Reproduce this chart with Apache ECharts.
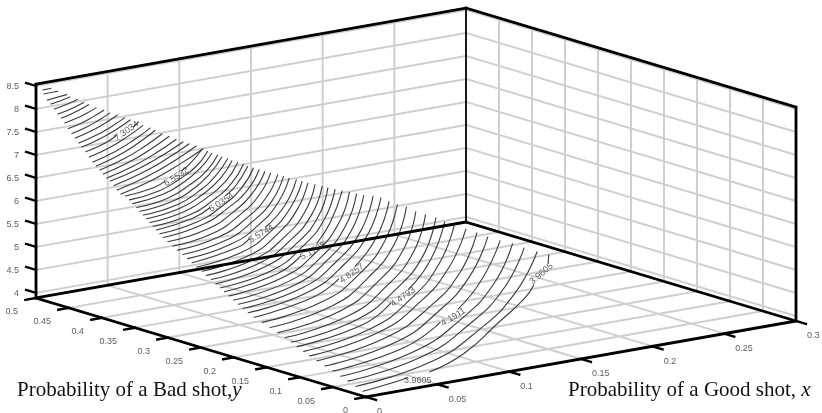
<!DOCTYPE html>
<html><head><meta charset="utf-8">
<script src="https://cdn.jsdelivr.net/npm/echarts@6/dist/echarts.min.js"></script>
<style>html,body{margin:0;padding:0;background:#fff}#c{width:822px;height:413px}</style>
</head><body><div id="c"></div>
<script>
// ---- values ----
const xTicks = [0, 0.05, 0.1, 0.15, 0.2, 0.25, 0.3];
const yTicks = [0, 0.05, 0.1, 0.15, 0.2, 0.25, 0.3, 0.35, 0.4, 0.45, 0.5];
const zTicks = [4, 4.5, 5, 5.5, 6, 6.5, 7, 7.5, 8, 8.5];
const zRange = [3.89, 8.54];
const xTitle = 'Probability of a Good shot, ';
const yTitle = 'Probability of a Bad shot,';
const contourLevels = [3.9605,4.0181,4.0758,4.1334,4.1911,4.2487,4.3063,4.364,4.4216,4.4793,4.5369,4.5945,4.6522,4.7098,4.7675,4.8251,4.8827,4.9404,4.998,5.0557,5.1133,5.1709,5.2286,5.2862,5.3439,5.4015,5.4591,5.5168,5.5744,5.6321,5.6897,5.7473,5.805,5.8626,5.9203,5.9779,6.0355,6.0932,6.1508,6.2085,6.2661,6.3237,6.3814,6.439,6.4967,6.5543,
6.638,6.699,6.772,6.843,6.885,6.946,7.008,7.069,7.132,7.213,7.3034,7.377,7.441,7.523,7.596,7.678,7.772,7.854,7.916,7.998,8.082,8.142,8.247,8.328];
const _ = [null, null];
const contourPaths = [
[[.01,.026],[.03,.034],[.0487,.0437],_,[.0676,.05],[.11,.09],[.169,.167],[.2157,.229],[.2405,.268],_,[.279,.33],[.291,.355]],
[[.01,.037],[.079,.073],[.148,.149],[.217,.245],[.286,.362]],
[[.01,.049],[.078,.085],[.146,.161],[.214,.256],[.282,.373]],
[[.01,.06],[.077,.096],[.145,.172],[.212,.267],[.279,.384]],
[[.01,.072],[.076,.107],[.128,.166],_,[.156,.199],[.208,.277],[.274,.392]],
[[.01,.084],[.075,.119],[.14,.194],[.205,.288],[.27,.402]],
[[.01,.096],[.074,.131],[.139,.205],[.203,.298],[.267,.412]],
[[.01,.107],[.0735,.142],[.137,.216],[.2,.309],[.264,.422]],
[[.01,.116],[.073,.151],[.1355,.225],[.198,.319],[.261,.433]],
[[.01,.126],[.072,.16],[.115,.212],_,[.143,.246],[.195,.326],[.257,.439]],
[[.01,.135],[.071,.169],[.1325,.243],[.194,.335],[.255,.448]],
[[.01,.144],[.07,.178],[.13,.251],[.191,.343],[.251,.455]],
[[.01,.155],[.069,.189],[.1285,.261],[.188,.351],[.247,.461]],
[[.01,.167],[.069,.201],[.128,.273],[.187,.363],[.246,.473]],
[[.01,.179],[.068,.212],[.1255,.281],[.183,.369],[.241,.476]],
[[.01,.191],[.067,.223],[.103,.265],_,[.13,.298],[.181,.377],[.238,.482]],
[[.01,.2],[.0665,.232],[.123,.3],[.1795,.386],[.236,.49]],
[[.01,.208],[.065,.239],[.12,.305],[.175,.388],[.2305,.49]],
[[.01,.215],[.0635,.245],[.117,.31],[.1705,.391],[.224,.49]],
[[.01,.222],[.062,.251],[.1145,.314],[.167,.394],[.219,.49]],
[[.01,.229],[.061,.258],[.112,.319],[.163,.396],[.214,.49]],
[[.01,.236],[.06,.264],[.095,.306],_,[.122,.339],[.159,.399],[.209,.49]],
[[.01,.242],[.0585,.269],[.107,.328],[.1555,.401],[.204,.49]],
[[.01,.249],[.057,.276],[.1045,.332],[.152,.403],[.199,.49]],
[[.01,.256],[.056,.282],[.1025,.337],[.149,.406],[.195,.49]],
[[.01,.263],[.055,.288],[.1,.341],[.145,.408],[.19,.49]],
[[.01,.27],[.054,.294],[.0975,.346],[.141,.411],[.185,.49]],
[[.01,.278],[.053,.301],[.0955,.351],[.138,.414],[.181,.49]],
[[.01,.285],[.052,.308],[.07,.329],_,[.095,.358],[.135,.416],[.177,.49]],
[[.01,.292],[.0505,.314],[.091,.36],[.1315,.419],[.172,.49]],
[[.01,.299],[.0495,.32],[.089,.365],[.1285,.421],[.168,.49]],
[[.01,.307],[.0485,.327],[.087,.37],[.1255,.424],[.164,.49]],
[[.01,.314],[.047,.333],[.0845,.375],[.122,.427],[.159,.49]],
[[.01,.322],[.046,.34],[.0825,.38],[.119,.43],[.155,.49]],
[[.01,.329],[.045,.347],[.0805,.385],[.116,.432],[.151,.49]],
[[.01,.334],[.044,.351],[.0785,.388],[.113,.434],[.147,.49]],
[[.01,.339],[.043,.356],[.066,.38],_,[.091,.41],[.11,.436],[.143,.49]],
[[.01,.344],[.0425,.36],[.075,.394],[.1075,.437],[.14,.49]],
[[.01,.349],[.0415,.365],[.073,.398],[.1045,.439],[.136,.49]],
[[.01,.354],[.0405,.369],[.071,.401],[.1015,.441],[.132,.49]],
[[.01,.359],[.04,.373],[.0695,.404],[.099,.443],[.129,.49]],
[[.01,.364],[.039,.378],[.0675,.407],[.096,.445],[.125,.49]],
[[.01,.369],[.038,.382],[.066,.411],[.094,.446],[.122,.49]],
[[.01,.375],[.037,.388],[.064,.415],[.091,.449],[.118,.49]],
[[.01,.38],[.036,.392],[.0625,.418],[.089,.45],[.115,.49]],
[[.01,.386],[.035,.397],[.049,.411],_,[.072,.435],[.086,.453],[.111,.49]],
[[.005,.382],[.0388,.4085],[.0735,.4428],[.1073,.48]],
[[.005,.3876],[.0376,.4134],[.0713,.4467],[.1039,.483]],
[[.005,.3927],[.0359,.417],[.0677,.4484],[.0986,.4825]],
[[.005,.3982],[.0343,.4206],[.0646,.4497],[.0939,.4813]],
[[.005,.4033],[.0336,.4259],[.063,.4551],[.0916,.4869]],
[[.005,.4087],[.0326,.431],[.061,.4598],[.0886,.4911]],
[[.005,.4139],[.0313,.4354],[.0585,.4632],[.0848,.4934]],
[[.005,.4194],[.0306,.441],[.0571,.4689],[.0827,.4993]],
[[.005,.4245],[.0296,.4449],[.055,.4713],[.0796,.5]],
[[.005,.43],[.0279,.4489],[.0515,.4734],[.0744,.5]],
[[.005,.4352],[.0269,.4527],[.042,.4695],_,[.0625,.488],[.0714,.5]],
[[.005,.4412],[.025,.4571],[.0457,.4777],[.0657,.5]],
[[.005,.4457],[.0237,.4604],[.043,.4794],[.0617,.5]],
[[.005,.4512],[.022,.4644],[.0396,.4815],[.0566,.5]],
[[.005,.4563],[.0203,.4681],[.0361,.4834],[.0514,.5]],
[[.005,.4618],[.019,.4721],[.0333,.4855],[.0473,.5]],
[[.005,.467],[.0168,.4752],[.0289,.4858],[.0407,.4974]],
[[.005,.4724],[.0153,.4797],[.026,.4891],[.0363,.4993]],
[[.005,.4775],[.0143,.4836],[.0239,.4915],[.0332,.5]],
[[.005,.4831],[.0129,.4877],[.021,.4936],[.0288,.5]],
[[.005,.4881],[.0111,.4913],[.0175,.4955],[.0236,.5]],
[[.005,.4936],[.0213,.5]],
[[.005,.4988],[.0151,.5]],
[[.005,.5],[.0103,.5]]
];
const labelTexts = ['3.9605','3.9605','4.1911','4.4793','4.8257','5.1708','5.5744','6.0354','6.5532','7.3034'];
const labelLevels = [3.9605,3.9605,4.1911,4.4793,4.8251,5.1709,5.5744,6.0355,6.5543,7.3034];
const labelX = [.26,.049,.142,.129,.1167,.1085,.0825,.0787,.0602,.053];
const labelY = [.299,.028,.176,.224,.275,.316,.338,.39,.418,.478];

// ---- projection of the 3-D box onto the page ----
const O = [366, 397], XV = [430/.3, -76/.3], YV = [-660, -198];
const boxH = v => 46 * (v - zRange[0]);
const contourH = v => 47.8 * (v - 4);
const proj = (x, y, h) => [O[0] + XV[0]*x + YV[0]*y, O[1] + XV[1]*x + YV[1]*y - h];

const X1 = .3, Y1 = .5, TOP = boxH(zRange[1]);
const gridPts = [];
const seg = (arr, a, b) => { arr.push(a, b, [null, null]); };
xTicks.slice(1, -1).forEach(x => {
  seg(gridPts, proj(x, 0, 0), proj(x, Y1, 0));
  seg(gridPts, proj(x, Y1, 0), proj(x, Y1, TOP));
});
yTicks.slice(1, -1).forEach(y => {
  seg(gridPts, proj(0, y, 0), proj(X1, y, 0));
  seg(gridPts, proj(X1, y, 0), proj(X1, y, TOP));
});
zTicks.forEach(z => {
  seg(gridPts, proj(0, Y1, boxH(z)), proj(X1, Y1, boxH(z)));
  seg(gridPts, proj(X1, Y1, boxH(z)), proj(X1, 0, boxH(z)));
});
const edgePts = [], thinEdgePts = [], tickPts = [];
seg(edgePts, proj(0, Y1, 0), proj(0, 0, 0));
seg(edgePts, proj(0, 0, 0), proj(X1, 0, 0));
seg(edgePts, proj(0, Y1, 0), proj(X1, Y1, 0));
seg(edgePts, proj(X1, Y1, 0), proj(X1, 0, 0));
seg(edgePts, proj(0, Y1, 0), proj(0, Y1, TOP));
seg(edgePts, proj(0, Y1, TOP), proj(X1, Y1, TOP));
seg(edgePts, proj(X1, Y1, TOP), proj(X1, 0, TOP));
seg(edgePts, proj(X1, 0, TOP), proj(X1, 0, 0));
seg(thinEdgePts, proj(X1, Y1, 0), proj(X1, Y1, TOP));
xTicks.forEach(x => seg(tickPts, proj(x, 0, 0), proj(x, -.015, 0)));
yTicks.forEach(y => seg(tickPts, proj(0, y, 0), proj(-.0075, y, 0)));
zTicks.forEach(z => seg(tickPts, proj(0, Y1, boxH(z)), proj(0, Y1 + .015, boxH(z))));

const FONT = '"Liberation Sans", Arial, sans-serif';
const tickLabel = (pts, texts, align, off) => ({
  type: 'scatter', symbolSize: 0, silent: true, z: 6, animation: false,
  data: pts.map((p, i) => ({ value: p, label: { formatter: String(texts[i]) } })),
  label: { show: true, position: 'inside', align, verticalAlign: 'middle', offset: off,
           fontFamily: FONT, fontSize: 9, color: '#333' }
});
const line = (data, color, width, z, smooth) => ({
  type: 'line', data, symbol: 'none', silent: true, animation: false, z, smooth: !!smooth,
  connectNulls: false, clip: false, lineStyle: { color, width, cap: 'square' }
});
const tilt = [40, 0, 32, 35, 35, 30, 32, 33, 33, 35];

const series = [
  line(gridPts, '#cfcfcf', 2, 1),
  ...contourPaths.map((path, k) => line(
    path.map(p => p[0] === null ? [null, null] : proj(p[0], p[1], contourH(contourLevels[k]))),
    '#3a3a3a', 1.1, 2, true)),
  line(edgePts, '#000', 2.8, 3),
  line(thinEdgePts, '#000', 1.8, 3),
  line(tickPts, '#000', 2.4, 3),
  tickLabel(xTicks.map(x => proj(x, 0, 0)), xTicks, 'left', [11, 15]),
  tickLabel(yTicks.map(y => proj(0, y, 0)), yTicks, 'right', [-18, 14]),
  tickLabel(zTicks.map(z => proj(0, Y1, boxH(z))), zTicks, 'right', [-17, 1]),
  {
    type: 'scatter', symbolSize: 0, silent: true, z: 6, animation: false,
    data: labelTexts.map((t, i) => ({
      value: proj(labelX[i], labelY[i], contourH(labelLevels[i])),
      label: { formatter: t, rotate: tilt[i] }
    })),
    label: { show: true, position: 'inside', align: 'center', verticalAlign: 'middle',
             fontFamily: FONT, fontSize: 9, color: '#333' }
  }
];

const title = (text, axisVar, left) => ({
  type: 'text', left, top: 380, silent: true,
  style: {
    text: '{a|' + text + '}{b|' + axisVar + '}',
    rich: {
      a: { fontFamily: '"Liberation Serif", serif', fontSize: 21, fill: '#111' },
      b: { fontFamily: '"Liberation Serif", serif', fontSize: 21, fontStyle: 'italic', fill: '#111' }
    }
  }
});

const chart = echarts.init(document.getElementById('c'), null, { renderer: 'canvas' });
chart.setOption({
  animation: false,
  backgroundColor: '#fff',
  grid: { left: 0, right: 0, top: 0, bottom: 0 },
  xAxis: { type: 'value', min: 0, max: 822, show: false },
  yAxis: { type: 'value', min: 0, max: 413, inverse: true, show: false },
  series,
  graphic: [title(yTitle, 'y', 17), title(xTitle, 'x', 568)]
});
</script></body></html>
